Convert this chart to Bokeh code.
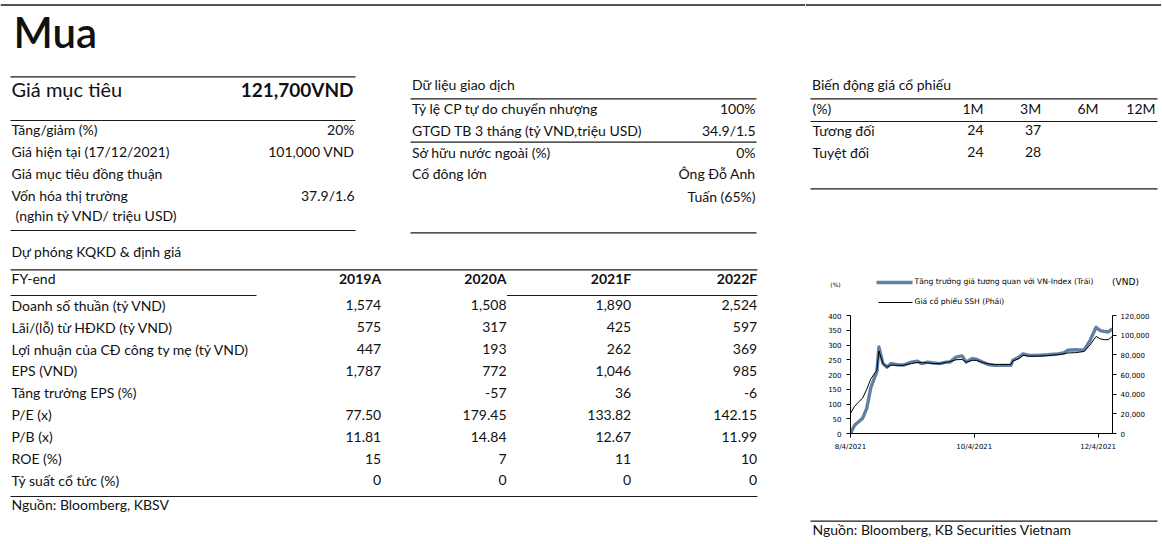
import pandas as pd
from bokeh.plotting import figure
from bokeh.models import (Range1d, LinearAxis, FixedTicker, NumeralTickFormatter,
                          CustomJSTickFormatter, ColumnDataSource)
from bokeh.layouts import row, column
from bokeh.embed import file_html
from bokeh.resources import INLINE
from bokeh.core.properties import value

# ---------------- data ----------------
rating = "Mua"
target_label = "Giá mục tiêu"
target_price = "121,700VND"
summary_labels = ["Tăng/giảm (%)", "Giá hiện tại (17/12/2021)", "Giá mục tiêu đồng thuận",
                  "Vốn hóa thị trường", " (nghìn tỷ VND/ triệu USD)"]
summary_values = ["20%", "101,000 VND", "", "37.9/1.6", ""]

trading_title = "Dữ liệu giao dịch"
trading_labels = ["Tỷ lệ CP tự do chuyển nhượng", "GTGD TB 3 tháng (tỷ VND,triệu USD)",
                  "Sở hữu nước ngoài (%)", "Cổ đông lớn", ""]
trading_values = ["100%", "34.9/1.5", "0%", "Ông Đỗ Anh", "Tuấn (65%)"]

perf_title = "Biến động giá cổ phiếu"
perf_unit = "(%)"
perf_periods = ["1M", "3M", "6M", "12M"]
perf_rows = ["Tương đối", "Tuyệt đối"]
perf_relative = [24, 37, None, None]
perf_absolute = [24, 28, None, None]

fy_title = "Dự phóng KQKD & định giá"
fy_head = "FY-end"
fy_years = ["2019A", "2020A", "2021F", "2022F"]
fy_rows = ["Doanh số thuần (tỷ VND)", "Lãi/(lỗ) từ HĐKD (tỷ VND)",
           "Lợi nhuận của CĐ công ty mẹ  (tỷ VND)", "EPS (VND)", "Tăng trưởng EPS (%)",
           "P/E (x)", "P/B (x)", "ROE (%)", "Tỷ suất cổ tức (%)"]
fy_decimals = [0, 0, 0, 0, 0, 2, 2, 0, 0]
fy_2019 = [1574, 575, 447, 1787, None, 77.50, 11.81, 15, 0]
fy_2020 = [1508, 317, 193, 772, -57, 179.45, 14.84, 7, 0]
fy_2021 = [1890, 425, 262, 1046, 36, 133.82, 12.67, 11, 0]
fy_2022 = [2524, 597, 369, 985, -6, 142.15, 11.99, 10, 0]

source_left = "Nguồn: Bloomberg, KBSV"
source_right = "Nguồn: Bloomberg, KB Securities Vietnam"

chart_dates = ["2021-08-04", "2021-08-06", "2021-08-08", "2021-08-10", "2021-08-12",
               "2021-08-14", "2021-08-16", "2021-08-17", "2021-08-18", "2021-08-20",
               "2021-08-22", "2021-08-24", "2021-08-27", "2021-08-30", "2021-09-03",
               "2021-09-06", "2021-09-08", "2021-09-11", "2021-09-14", "2021-09-17",
               "2021-09-20", "2021-09-22", "2021-09-25", "2021-09-28", "2021-09-30",
               "2021-10-03", "2021-10-05", "2021-10-08", "2021-10-11", "2021-10-14",
               "2021-10-18", "2021-10-22", "2021-10-23", "2021-10-26", "2021-10-28",
               "2021-10-31", "2021-11-04", "2021-11-09", "2021-11-14", "2021-11-17",
               "2021-11-19", "2021-11-23", "2021-11-27", "2021-11-30", "2021-12-03",
               "2021-12-05", "2021-12-07", "2021-12-09", "2021-12-11"]
rel_growth = [0, 28, 40, 52, 85, 155, 192, 210, 293, 237,
              225, 237, 233, 232, 242, 245, 237, 242, 239, 237,
              242, 242, 259, 263, 242, 254, 252, 242, 234, 231,
              231, 231, 248, 259, 270, 265, 265, 267, 270, 273,
              282, 284, 282, 315, 360, 349, 346, 344, 355]
ssh_price = [20400, 27600, 32100, 36000, 45000, 55500, 61500, 64500, 84000, 71100,
             67500, 69600, 69300, 69300, 71100, 72300, 72000, 71700, 71100, 71100,
             72300, 73200, 75000, 75300, 72600, 74400, 74400, 72300, 70800, 70200,
             70200, 70200, 73800, 76200, 79500, 78600, 78600, 79200, 80100, 81000,
             81900, 82200, 83400, 90000, 98700, 96300, 95400, 95400, 98700]
legend_rel = "Tăng trưởng giá tương quan với VN-Index (Trái)"
legend_price = "Giá cổ phiếu SSH (Phải)"
axis_left_unit = "(%)"
axis_right_unit = "(VND)"
x_tick_dates = ["2021-08-04", "2021-10-04", "2021-12-04"]

# ---------------- styles ----------------
FONT = "Lato"
CFONT = "DejaVu Sans"
TXT = "#111111"
RULE = "#1a1a1a"
BLUE = "#6080a6"
W_TOTAL, H_TOTAL = 1161, 543
X_SPLIT = 805
BASE_SHIFT = 0.48          # compensates where the renderer puts the alphabetic baseline


def text_fig(x0, x1, ytop, ybot):
    p = figure(width=x1 - x0, height=ybot - ytop, x_range=Range1d(x0, x1),
               y_range=Range1d(ybot, ytop), output_backend="svg", toolbar_location=None,
               min_border=0, x_axis_location=None, y_axis_location=None)
    p.frame_align = False
    p.grid.visible = False
    p.outline_line_color = None
    p.background_fill_color = "white"
    p.border_fill_color = "white"
    return p


def put(p, xs, ys, texts, align="left", size=14, style="normal", font=FONT, color=TXT):
    p.text(x=xs, y=[y - BASE_SHIFT * size for y in ys], text=texts, text_align=align,
           text_baseline="alphabetic", text_font=value(font), text_font_size=f"{size}px",
           text_font_style=style, text_color=color)


def rules(p, segs, width=1.2, color=RULE):
    p.segment(x0=[s[0] for s in segs], y0=[s[2] for s in segs],
              x1=[s[1] for s in segs], y1=[s[2] for s in segs],
              line_color=color, line_width=width)


def fmt(v, d):
    if v is None:
        return ""
    return f"{v:,.{d}f}"


# ---------------- left part ----------------
L = text_fig(0, X_SPLIT, 0, H_TOTAL)
rules(L, [(0, X_SPLIT, 4.5)], width=1.6)
put(L, [13], [52], [rating], size=42, font="Lato Semibold, Lato")

# target block
rules(L, [(10, 355, 76.3), (10, 355, 120), (10, 355, 230)])
put(L, [11], [98], [target_label], size=20)
put(L, [353], [98], [target_price], align="right", size=19, style="bold")
sum_y = [136, 158, 180, 202, 222]
sum_x = [11, 11, 11, 11, 15]
put(L, sum_x, sum_y, summary_labels)
put(L, [354] * 5, sum_y, summary_values, align="right")

# trading block
rules(L, [(410, 756, 98.3), (410, 756, 141.7), (410, 756, 232.3)])
put(L, [411.5], [90.7], [trading_title])
tr_y = [115, 136.7, 158.3, 180, 202.7]
put(L, [411.5] * 5, tr_y, trading_labels)
put(L, [755] * 5, tr_y, trading_values, align="right")

# forecast table
rules(L, [(10, 757, 269.3), (10, 256, 295), (506.5, 757, 295), (10, 757, 496)])
put(L, [11], [257.3], [fy_title])
put(L, [11], [285], [fy_head])
col_x = [380.7, 506, 630.7, 756.7]
put(L, col_x, [285] * 4, fy_years, align="right", style="bold")
row_y = [311.5 + 21.9 * i for i in range(len(fy_rows))]
put(L, [11] * len(fy_rows), row_y, fy_rows)
for cx, colvals in zip(col_x, [fy_2019, fy_2020, fy_2021, fy_2022]):
    put(L, [cx] * len(colvals), row_y,
        [fmt(v, d) for v, d in zip(colvals, fy_decimals)], align="right")
put(L, [11], [510.7], [source_left])

# ---------------- right part ----------------
Y1, Y2 = 311, 462
RT = text_fig(X_SPLIT, W_TOTAL, 0, Y1)
rules(RT, [(X_SPLIT, W_TOTAL, 4.5)], width=1.6)
rules(RT, [(810, 1157, 98.3), (810, 1157, 121), (810, 1157, 188.3)])
put(RT, [811.5], [90.7], [perf_title])
put(RT, [812], [115], [perf_unit])
perf_x = [983, 1040.7, 1098, 1155]
put(RT, perf_x, [115] * 4, perf_periods, align="right")
put(RT, [812, 812], [136.7, 158.3], perf_rows)
put(RT, perf_x, [136.7] * 4, [fmt(v, 0) for v in perf_relative], align="right")
put(RT, perf_x, [158.3] * 4, [fmt(v, 0) for v in perf_absolute], align="right")

# chart legend and unit captions (above the plot frame)
rules(RT, [(876, 912, 282)], width=3.4, color=BLUE)
rules(RT, [(878, 912, 302)], width=1, color="black")
put(RT, [914, 914], [284.7, 304.7], [legend_rel, legend_price], size=7.6, font=CFONT,
    color="black")
put(RT, [835], [287.2], [axis_left_unit], align="center", size=6, font=CFONT,
    color="black")
put(RT, [1125], [286.3], [axis_right_unit], align="center", size=9, font=CFONT,
    color="black")

RB = text_fig(X_SPLIT, W_TOTAL, Y2, H_TOTAL)
rules(RB, [(810, 1157, 520.7)])
put(RB, [812], [536], [source_right])

# ---------------- chart ----------------
dates = pd.to_datetime(chart_dates)
start = pd.Timestamp(chart_dates[0]).to_pydatetime()
end = (pd.Timestamp(chart_dates[0]) + pd.Timedelta(hours=3098)).to_pydatetime()
src = ColumnDataSource(dict(date=dates, rel=rel_growth, price=ssh_price))

CH_W, CH_H = W_TOTAL - X_SPLIT, Y2 - Y1
fr_left = 850 - X_SPLIT
fr_right_border = 49
frame_top = 315 - Y1
frame_h = 118
c = figure(width=CH_W, height=CH_H, x_axis_type="datetime",
           x_range=Range1d(start, end), y_range=Range1d(0, 400),
           output_backend="svg", toolbar_location=None,
           min_border_left=fr_left, min_border_right=fr_right_border,
           min_border_top=frame_top, min_border_bottom=CH_H - frame_top - frame_h)
c.frame_align = False
c.grid.visible = False
c.outline_line_color = None
c.extra_y_ranges = {"vnd": Range1d(0, 120000)}
c.add_layout(LinearAxis(y_range_name="vnd",
                        ticker=FixedTicker(ticks=list(range(0, 120001, 20000))),
                        formatter=NumeralTickFormatter(format="0,0")), "right")
c.yaxis[0].ticker = FixedTicker(ticks=list(range(0, 401, 50)))
c.xaxis.ticker = FixedTicker(ticks=[pd.Timestamp(d).value // 10**6 for d in x_tick_dates])
c.xaxis.formatter = CustomJSTickFormatter(code="""
const d = new Date(tick);
return (d.getUTCMonth() + 1) + '/' + d.getUTCDate() + '/' + d.getUTCFullYear();
""")
for ax in c.axis:
    ax.axis_line_color = "black"
    ax.axis_line_width = 1
    ax.major_tick_line_color = "black"
    ax.major_tick_in = 0
    ax.major_tick_out = 4
    ax.minor_tick_line_color = None
    ax.major_label_text_font = CFONT
    ax.major_label_text_font_size = "7px"
    ax.major_label_text_color = "black"
c.yaxis[0].major_label_standoff = 5
c.yaxis[1].major_label_standoff = 4
c.xaxis.major_label_standoff = 5

c.line(x="date", y="rel", source=src, line_color=BLUE, line_width=3.4, line_join="round")
c.line(x="date", y="price", source=src, y_range_name="vnd", line_color="black", line_width=1)

layout = row(L, column(RT, c, RB))
open("out.html", "w").write(file_html(layout, INLINE))
